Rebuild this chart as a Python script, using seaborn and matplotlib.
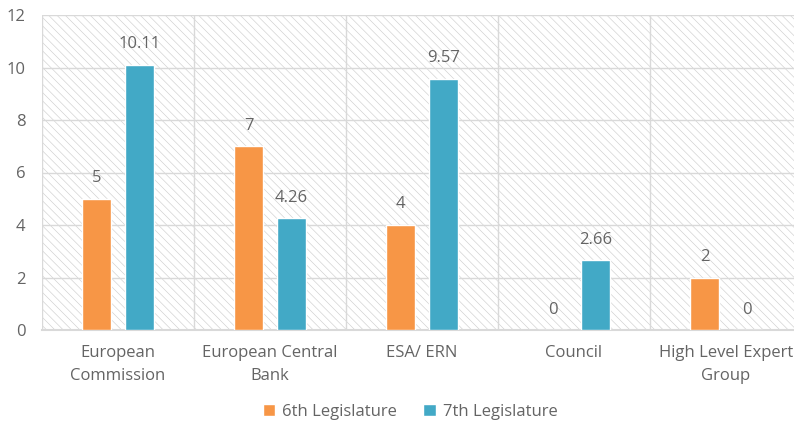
import pandas as pd
import seaborn as sns
import matplotlib.pyplot as plt
from matplotlib.patches import Rectangle

# chart data
bodies = ['European\nCommission', 'European Central\nBank', 'ESA/ ERN', 'Council', 'High Level Expert\nGroup']
terms = ['6th Legislature', '7th Legislature']
leg6 = [5, 7, 4, 0, 2]
leg7 = [10.11, 4.26, 9.57, 2.66, 0]
labels6 = ['5', '7', '4', '0', '2']
labels7 = ['10.11', '4.26', '9.57', '2.66', '0']
yticks = [0, 2, 4, 6, 8, 10, 12]

df = pd.DataFrame({
    'body': bodies * 2,
    'term': [terms[0]] * len(bodies) + [terms[1]] * len(bodies),
    'value': leg6 + leg7,
})

sns.set_style('white')
plt.rcParams['font.family'] = ['Open Sans', 'DejaVu Sans']
plt.rcParams['hatch.linewidth'] = 0.45
txt = '#646464'
grid = '#d9d9d9'
fs = 12

fig = plt.figure(figsize=(7.94, 4.25), dpi=100)
ax = fig.add_axes([42 / 794, 95 / 425, 760 / 794, 315 / 425])

# hatched plot-area background
ax.add_patch(Rectangle((0, 0), 1, 1, transform=ax.transAxes, facecolor='white',
                       edgecolor='#cfcfcf', hatch='\\\\\\\\', linewidth=0, zorder=0))

sns.barplot(data=df, x='body', y='value', hue='term', hue_order=terms,
            palette=['#F79646', '#42A9C6'], saturation=1, width=0.56, gap=0.32,
            legend=True, ax=ax, zorder=3)

for cont, labs in zip(ax.containers, [labels6, labels7]):
    ax.bar_label(cont, labels=labs, padding=9, color=txt, fontsize=fs)

ax.set_xlim(-0.5, 4.5)
ax.set_ylim(0, 12)
ax.set_yticks(yticks)
ax.set_xticks(range(len(bodies)), bodies, linespacing=1.55)
ax.set_xticks([i - 0.5 for i in range(len(bodies) + 1)], minor=True)
ax.grid(axis='y', color=grid, linewidth=1, zorder=1)
ax.grid(axis='x', which='minor', color=grid, linewidth=1, zorder=1)
ax.set_axisbelow(True)
ax.tick_params(axis='both', which='both', length=0, colors=txt, labelsize=fs)
ax.tick_params(axis='x', pad=11)
ax.tick_params(axis='y', pad=12)
for s in ['top', 'right', 'left']:
    ax.spines[s].set_visible(False)
ax.spines['bottom'].set_color(grid)
ax.spines['bottom'].set_linewidth(1.5)
ax.set_xlabel('')
ax.set_ylabel('')

handles, labs = ax.get_legend_handles_labels()
ax.get_legend().remove()
fig.legend(handles, labs, loc='center', bbox_to_anchor=(410 / 794, 13 / 425), ncol=2,
           frameon=False, fontsize=fs, labelcolor=txt, handlelength=0.75,
           handleheight=0.75, handletextpad=0.4, columnspacing=1.6)

fig.savefig('out.png', dpi=100)
